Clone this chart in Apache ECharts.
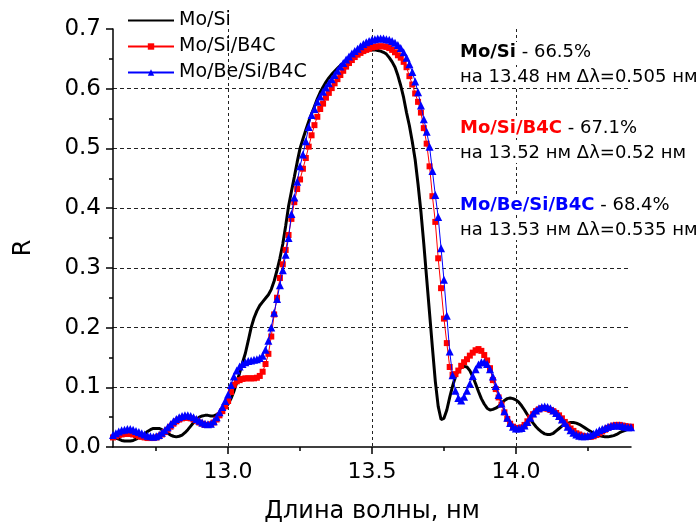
<!DOCTYPE html>
<html>
<head>
<meta charset="utf-8">
<script src="https://cdn.jsdelivr.net/npm/echarts@6/dist/echarts.min.js"></script>
<style>
  html, body { margin: 0; padding: 0; background: #fff; }
  #chart { width: 699px; height: 531px; }
</style>
</head>
<body>
<div id="chart"></div>
<script>
// Wavelength grid, nm
const wavelength = [
  12.60, 12.61, 12.62, 12.63, 12.64, 12.65, 12.66, 12.67, 12.68, 12.69,
  12.70, 12.71, 12.72, 12.73, 12.74, 12.75, 12.76, 12.77, 12.78, 12.79,
  12.80, 12.81, 12.82, 12.83, 12.84, 12.85, 12.86, 12.87, 12.88, 12.89,
  12.90, 12.91, 12.92, 12.93, 12.94, 12.95, 12.96, 12.97, 12.98, 12.99,
  13.00, 13.01, 13.02, 13.03, 13.04, 13.05, 13.06, 13.07, 13.08, 13.09,
  13.10, 13.11, 13.12, 13.13, 13.14, 13.15, 13.16, 13.17, 13.18, 13.19,
  13.20, 13.21, 13.22, 13.23, 13.24, 13.25, 13.26, 13.27, 13.28, 13.29,
  13.30, 13.31, 13.32, 13.33, 13.34, 13.35, 13.36, 13.37, 13.38, 13.39,
  13.40, 13.41, 13.42, 13.43, 13.44, 13.45, 13.46, 13.47, 13.48, 13.49,
  13.50, 13.51, 13.52, 13.53, 13.54, 13.55, 13.56, 13.57, 13.58, 13.59,
  13.60, 13.61, 13.62, 13.63, 13.64, 13.65, 13.66, 13.67, 13.68, 13.69,
  13.70, 13.71, 13.72, 13.73, 13.74, 13.75, 13.76, 13.77, 13.78, 13.79,
  13.80, 13.81, 13.82, 13.83, 13.84, 13.85, 13.86, 13.87, 13.88, 13.89,
  13.90, 13.91, 13.92, 13.93, 13.94, 13.95, 13.96, 13.97, 13.98, 13.99,
  14.00, 14.01, 14.02, 14.03, 14.04, 14.05, 14.06, 14.07, 14.08, 14.09,
  14.10, 14.11, 14.12, 14.13, 14.14, 14.15, 14.16, 14.17, 14.18, 14.19,
  14.20, 14.21, 14.22, 14.23, 14.24, 14.25, 14.26, 14.27, 14.28, 14.29,
  14.30, 14.31, 14.32, 14.33, 14.34, 14.35, 14.36, 14.37, 14.38, 14.39,
  14.40
];

// Reflectivity, Mo/Si
const rMoSi = [
  0.017, 0.015, 0.013, 0.011, 0.010, 0.010, 0.010, 0.011, 0.013, 0.016,
  0.019, 0.022, 0.026, 0.029, 0.031, 0.031, 0.031, 0.029, 0.026, 0.023,
  0.020, 0.018, 0.017, 0.018, 0.020, 0.024, 0.029, 0.035, 0.041, 0.046,
  0.050, 0.052, 0.053, 0.053, 0.052, 0.052, 0.054, 0.057, 0.061, 0.066,
  0.072, 0.081, 0.093, 0.108, 0.124, 0.141, 0.157, 0.178, 0.200, 0.216,
  0.228, 0.237, 0.243, 0.249, 0.255, 0.264, 0.278, 0.296, 0.316, 0.340,
  0.370, 0.403, 0.428, 0.452, 0.477, 0.500, 0.516, 0.531, 0.545, 0.558,
  0.570, 0.583, 0.594, 0.603, 0.611, 0.618, 0.624, 0.629, 0.634, 0.639,
  0.643, 0.647, 0.650, 0.653, 0.656, 0.658, 0.660, 0.663, 0.665, 0.665,
  0.665, 0.665, 0.664, 0.663, 0.661, 0.658, 0.652, 0.645, 0.636, 0.622,
  0.605, 0.585, 0.560, 0.538, 0.511, 0.481, 0.440, 0.394, 0.340, 0.282,
  0.224, 0.166, 0.110, 0.068, 0.046, 0.048, 0.062, 0.083, 0.102, 0.118,
  0.128, 0.133, 0.135, 0.134, 0.128, 0.118, 0.106, 0.093, 0.081, 0.072,
  0.065, 0.062, 0.063, 0.065, 0.068, 0.073, 0.078, 0.081, 0.082, 0.081,
  0.079, 0.075, 0.069, 0.062, 0.054, 0.047, 0.040, 0.034, 0.029, 0.025,
  0.022, 0.021, 0.021, 0.023, 0.027, 0.031, 0.035, 0.038, 0.040, 0.041,
  0.041, 0.040, 0.038, 0.035, 0.032, 0.029, 0.026, 0.023, 0.021, 0.019,
  0.018, 0.017, 0.017, 0.018, 0.019, 0.021, 0.024, 0.026, 0.028, 0.030,
  0.031
];

// Reflectivity, Mo/Si/B4C
const rMoSiB4C = [
  0.016, 0.018, 0.020, 0.021, 0.022, 0.022, 0.022, 0.021, 0.020, 0.018,
  0.017, 0.016, 0.015, 0.015, 0.015, 0.016, 0.018, 0.021, 0.025, 0.029,
  0.034, 0.039, 0.043, 0.046, 0.048, 0.049, 0.049, 0.048, 0.046, 0.044,
  0.041, 0.039, 0.037, 0.037, 0.038, 0.041, 0.046, 0.053, 0.060, 0.068,
  0.077, 0.092, 0.104, 0.110, 0.112, 0.114, 0.115, 0.115, 0.115, 0.115,
  0.116, 0.119, 0.126, 0.139, 0.156, 0.185, 0.222, 0.250, 0.283, 0.306,
  0.330, 0.355, 0.382, 0.410, 0.432, 0.448, 0.466, 0.484, 0.503, 0.522,
  0.539, 0.553, 0.566, 0.575, 0.585, 0.593, 0.601, 0.609, 0.616, 0.623,
  0.630, 0.637, 0.643, 0.648, 0.653, 0.657, 0.660, 0.663, 0.665, 0.667,
  0.669, 0.670, 0.671, 0.671, 0.671, 0.670, 0.668, 0.665, 0.661, 0.656,
  0.652, 0.645, 0.636, 0.621, 0.607, 0.592, 0.578, 0.560, 0.534, 0.508,
  0.470, 0.420, 0.377, 0.316, 0.266, 0.215, 0.174, 0.134, 0.121, 0.122,
  0.128, 0.136, 0.142, 0.147, 0.153, 0.158, 0.162, 0.164, 0.161, 0.154,
  0.145, 0.132, 0.112, 0.097, 0.083, 0.071, 0.058, 0.047, 0.039, 0.034,
  0.032, 0.031, 0.033, 0.037, 0.043, 0.049, 0.055, 0.060, 0.063, 0.065,
  0.065, 0.064, 0.062, 0.060, 0.057, 0.053, 0.048, 0.042, 0.036, 0.031,
  0.027, 0.023, 0.021, 0.019, 0.018, 0.017, 0.017, 0.018, 0.020, 0.023,
  0.026, 0.029, 0.032, 0.034, 0.036, 0.037, 0.037, 0.036, 0.035, 0.034,
  0.034
];

// Reflectivity, Mo/Be/Si/B4C
const rMoBeSiB4C = [
  0.020, 0.023, 0.026, 0.028, 0.029, 0.030, 0.030, 0.029, 0.027, 0.025,
  0.023, 0.021, 0.019, 0.018, 0.017, 0.018, 0.020, 0.024, 0.028, 0.033,
  0.038, 0.043, 0.047, 0.050, 0.052, 0.053, 0.053, 0.052, 0.050, 0.047,
  0.044, 0.041, 0.039, 0.038, 0.039, 0.043, 0.050, 0.058, 0.067, 0.077,
  0.088, 0.104, 0.118, 0.128, 0.135, 0.139, 0.142, 0.144, 0.145, 0.146,
  0.147, 0.149, 0.153, 0.163, 0.178, 0.200, 0.225, 0.248, 0.271, 0.296,
  0.322, 0.350, 0.390, 0.418, 0.444, 0.470, 0.490, 0.512, 0.536, 0.556,
  0.566, 0.578, 0.587, 0.595, 0.602, 0.609, 0.616, 0.623, 0.630, 0.637,
  0.643, 0.649, 0.654, 0.659, 0.663, 0.667, 0.671, 0.675, 0.678, 0.680,
  0.682, 0.683, 0.684, 0.684, 0.684, 0.683, 0.682, 0.680, 0.677, 0.673,
  0.668, 0.661, 0.652, 0.641, 0.628, 0.612, 0.594, 0.572, 0.549, 0.528,
  0.503, 0.462, 0.422, 0.385, 0.333, 0.280, 0.220, 0.160, 0.120, 0.094,
  0.082, 0.078, 0.084, 0.094, 0.106, 0.119, 0.130, 0.138, 0.142, 0.142,
  0.139, 0.130, 0.118, 0.102, 0.087, 0.073, 0.060, 0.049, 0.040, 0.034,
  0.031, 0.031, 0.032, 0.036, 0.042, 0.049, 0.056, 0.061, 0.065, 0.067,
  0.068, 0.067, 0.065, 0.061, 0.057, 0.052, 0.046, 0.040, 0.034, 0.028,
  0.024, 0.021, 0.019, 0.018, 0.018, 0.019, 0.020, 0.022, 0.025, 0.028,
  0.030, 0.032, 0.034, 0.035, 0.036, 0.036, 0.036, 0.035, 0.034, 0.033,
  0.033
];

const seriesNames = ['Mo/Si', 'Mo/Si/B4C', 'Mo/Be/Si/B4C'];
const xMajorTicks = [13.0, 13.5, 14.0];
const xMinorTicks = [12.75, 13.25, 13.75, 14.25];

// Peak summaries
const peakNames = ['Mo/Si', 'Mo/Si/B4C', 'Mo/Be/Si/B4C'];
const peakValues = ['66.5%', '67.1%', '68.4%'];
const peakWavelengths = ['13.48', '13.52', '13.53'];
const peakWidths = ['0.505', '0.52', '0.535'];

const FONT = '"DejaVu Sans", "Liberation Sans", sans-serif';
const pairs = vals => wavelength.map((w, i) => [w, vals[i]]);

const chart = echarts.init(document.getElementById('chart'), null, { renderer: 'canvas' });

const noteColors = ['#000000', '#ff0000', '#0000ff'];
const noteTop = [52, 128, 205];
const notes = [];
peakNames.forEach((n, k) => {
  notes.push({
    type: 'text', left: 460, top: noteTop[k] - 10, z: 100,
    style: {
      text: '{b|' + n + '} - ' + peakValues[k],
      font: '18px ' + FONT, fill: '#000', backgroundColor: '#fff',
      lineHeight: 20,
      rich: { b: { fontWeight: 'bold', fill: noteColors[k], fontSize: 18, fontFamily: FONT, lineHeight: 20 } }
    }
  });
  notes.push({
    type: 'text', left: 460, top: noteTop[k] + 15, z: 100,
    style: {
      text: 'на ' + peakWavelengths[k] + ' нм Δλ=' + peakWidths[k] + ' нм',
      font: '18px ' + FONT, fill: '#000', backgroundColor: '#fff', lineHeight: 20
    }
  });
});

const option = {
  animation: false,
  backgroundColor: '#fff',
  grid: { left: 113, right: 68, top: 29, bottom: 84, containLabel: false },
  legend: {
    orient: 'vertical', left: 122, top: 6, itemWidth: 46, itemHeight: 8, itemGap: 7,
    textStyle: { fontFamily: FONT, fontSize: 19, color: '#000' },
    data: [
      { name: seriesNames[0], itemStyle: { opacity: 0 } },
      { name: seriesNames[1] },
      { name: seriesNames[2] }
    ]
  },
  xAxis: [{
    type: 'value', min: 12.6, max: 14.4,
    axisLine: { show: true, onZero: false, lineStyle: { color: '#000', width: 1.5 } },
    axisTick: { show: true, length: 7, customValues: xMajorTicks, lineStyle: { color: '#000', width: 1.5 } },
    axisLabel: { show: true, customValues: xMajorTicks, margin: 14, color: '#000',
      fontFamily: FONT, fontSize: 22, formatter: v => v.toFixed(1) },
    splitLine: { show: true, lineStyle: { color: '#222', type: [3, 3], width: 1 } }
  }, {
    type: 'value', min: 12.6, max: 14.4, position: 'bottom',
    axisLine: { show: false },
    axisTick: { show: true, length: 4, customValues: xMinorTicks, lineStyle: { color: '#000', width: 1.5 } },
    axisLabel: { show: false },
    splitLine: { show: false }
  }],
  yAxis: {
    type: 'value', min: 0, max: 0.7, interval: 0.1,
    axisLine: { show: true, lineStyle: { color: '#000', width: 1.5 } },
    axisTick: { show: true, length: 7, lineStyle: { color: '#000', width: 1.5 } },
    minorTick: { show: true, splitNumber: 2, length: 4, lineStyle: { color: '#000', width: 1.5 } },
    axisLabel: { margin: 12, color: '#000', fontFamily: FONT, fontSize: 23, formatter: v => v.toFixed(1) },
    splitLine: { show: true, showMaxLine: false, showMinLine: false, lineStyle: { color: '#222', type: [4, 3], width: 1 } }
  },
  graphic: [
    { type: 'text', x: 24, y: 248, rotation: Math.PI / 2,
      style: { text: 'R', font: '24px ' + FONT, fill: '#000', align: 'center', verticalAlign: 'middle' } },
    { type: 'text', x: 372, y: 512,
      style: { text: 'Длина волны, нм', font: '24px ' + FONT, fill: '#000', align: 'center', verticalAlign: 'middle' } }
  ].concat(notes),
  series: [{
    name: seriesNames[0], type: 'line', data: pairs(rMoSi),
    symbol: 'none', color: '#000', lineStyle: { color: '#000', width: 3 }, z: 2
  }, {
    name: seriesNames[1], type: 'line', data: pairs(rMoSiB4C),
    symbol: 'rect', symbolSize: 6, showAllSymbol: true, color: '#ff0000',
    itemStyle: { color: '#ff0000' }, lineStyle: { color: '#ff0000', width: 1 }, z: 3
  }, {
    name: seriesNames[2], type: 'line', data: pairs(rMoBeSiB4C),
    symbol: 'triangle', symbolSize: 8, showAllSymbol: true, color: '#0000ff',
    itemStyle: { color: '#0000ff' }, lineStyle: { color: '#0000ff', width: 1 }, z: 4
  }]
};

chart.setOption(option);
</script>
</body>
</html>
